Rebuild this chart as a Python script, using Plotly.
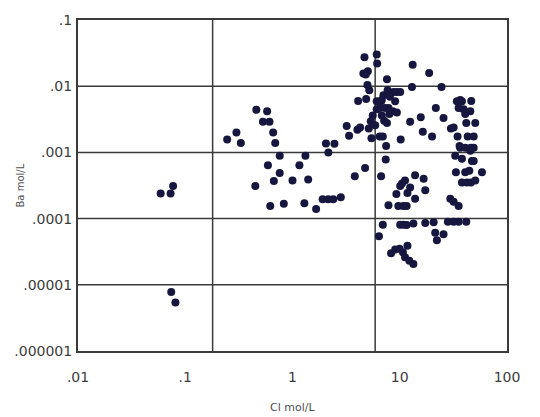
import plotly.graph_objects as go

# Cl (mol/L) and Ba (mol/L) values
cl = [0.059, 0.073, 0.077, 0.074, 0.081,
      0.246, 0.30, 0.33, 0.46, 0.58, 0.53, 0.61, 0.66, 0.69, 0.76, 0.59, 0.76, 0.67, 0.45,
      0.62, 0.83, 1.0, 1.16, 1.32, 1.40, 1.29, 1.66, 1.91, 2.15, 2.40, 2.82, 2.05, 2.16, 2.46,
      3.2, 3.37, 3.81, 4.03, 4.27, 4.75, 4.09, 4.86, 4.69, 4.82, 5.04, 4.58, 5.0, 5.2, 5.14,
      5.45, 5.6, 5.37, 6.1, 6.15, 6.1, 6.1, 5.9, 6.5, 6.7, 6.8, 7.05, 7.6, 7.7, 8.1, 8.75,
      9.06, 9.4, 10.1, 6.8, 7.15, 7.6, 8.0, 8.6, 9.4, 6.56, 7.85, 7.3, 6.95, 7.46, 7.4, 6.7,
      10.2, 12.5, 13.0, 13.2, 15.7, 16.4, 18.8, 20.0, 21.7, 24.5, 25.6, 30.0,
      6.95, 6.4, 7.85, 9.3, 10.1, 10.5, 11.2, 11.8, 12.5, 13.9, 13.9, 16.7, 17.3, 9.7, 10.8,
      11.6, 10.1, 10.8, 11.6, 13.4, 8.3, 9.06, 9.95, 10.7, 11.8, 11.2, 12.3, 13.4, 17.3, 20.7,
      21.4, 22.2, 25.6, 28.1, 31.8, 35.4, 41.7, 29.6, 31.8, 35.4,
      34.1, 36.6, 38.0, 35.4, 39.4, 45.5, 46.4, 34.6, 36.1, 31.8, 40.8, 41.7, 43.0, 48.9, 50.6,
      36.6, 40.8, 46.1, 48.9, 38.0, 45.5, 47.1, 33.4, 40.8, 44.5, 48.9, 58.4, 38.0, 42.3, 46.1,
      50.6, 32.9]

ba = [2.4e-4, 2.4e-4, 3.1e-4, 7.8e-6, 5.4e-6,
      1.56e-3, 2.0e-3, 1.39e-3, 4.4e-3, 4.2e-3, 2.9e-3, 2.9e-3, 2.0e-3, 1.39e-3, 8.9e-4, 6.4e-4,
      4.9e-4, 3.7e-4, 3.1e-4,
      1.55e-4, 1.67e-4, 3.75e-4, 6.4e-4, 8.9e-4, 3.9e-4, 1.7e-4, 1.4e-4, 1.96e-4, 1.96e-4,
      1.96e-4, 2.1e-4, 1.36e-3, 1.0e-3, 1.35e-3,
      2.5e-3, 1.78e-3, 4.35e-4, 2.2e-3, 2.37e-3, 5.8e-4, 6.0e-3, 6.4e-3, 0.0274, 0.015, 0.0168,
      0.0155, 0.0104, 8.65e-3, 2.3e-3, 1.64e-3, 3.6e-3, 2.96e-3, 0.030, 0.022, 5.9e-3, 4.5e-3,
      2.56e-3, 1.74e-3, 5.9e-3, 6.2e-3, 7.3e-3, 0.0127, 8.65e-3, 6.9e-3, 8.2e-3, 5.9e-3, 8.2e-3,
      8.2e-3, 3.6e-3, 3.0e-3, 2.77e-3, 3.8e-3, 4.2e-3, 4.0e-3, 4.7e-3, 4.7e-3, 4.7e-3, 1.74e-3,
      1.25e-3, 7.8e-4, 4.35e-4,
      1.56e-3, 2.9e-3, 9.7e-3, 0.021, 3.4e-3, 2.05e-3, 0.0158, 1.74e-3, 4.7e-3, 9.7e-3, 3.3e-3,
      2.3e-3,
      8.1e-5, 5.4e-5, 1.59e-4, 2.36e-4, 3.1e-4, 3.4e-4, 3.75e-4, 2.44e-4, 2.94e-4, 4.5e-4,
      1.99e-4, 4.0e-4, 2.67e-4, 1.55e-4, 1.55e-4, 1.55e-4, 8.1e-5, 8.1e-5, 8.0e-5, 8.4e-5,
      3.0e-5, 3.4e-5, 3.5e-5, 3.1e-5, 3.9e-5, 2.6e-5, 2.3e-5, 2.06e-5, 8.6e-5, 8.8e-5, 6.1e-5,
      4.7e-5, 5.8e-5, 9.0e-5, 9.0e-5, 9.0e-5, 9.0e-5, 1.99e-4, 1.8e-4, 1.55e-4,
      5.9e-3, 6.2e-3, 5.9e-3, 4.7e-3, 4.5e-3, 4.2e-3, 6.0e-3, 1.74e-3, 1.25e-3, 2.37e-3, 3.8e-3,
      2.77e-3, 1.74e-3, 1.74e-3, 2.77e-3, 1.18e-3, 1.18e-3, 1.18e-3, 1.18e-3, 8.0e-4, 1.06e-3,
      7.4e-4, 5.0e-4, 5.0e-4, 5.3e-4, 7.4e-4, 5.0e-4, 3.5e-4, 3.5e-4, 3.5e-4, 3.75e-4, 8.9e-4]

x_tickvals = [0.01, 0.1, 1, 10, 100]
x_ticktext = [".01", ".1", "1", "10", "100"]
y_tickvals = [0.1, 0.01, 0.001, 0.0001, 0.00001, 0.000001]
y_ticktext = [".1", ".01", ".001", ".0001", ".00001", ".000001"]
cl_ref_lines = [0.18, 5.9]          # vertical reference lines (Cl mol/L)
ba_grid = [0.01, 0.001, 0.0001, 0.00001]

fig = go.Figure()
fig.add_trace(go.Scatter(
    x=cl, y=ba, mode="markers",
    marker=dict(size=8, color="#16163e"),
    showlegend=False, hoverinfo="skip"))

line_col = "#3a3a3a"
for xv in cl_ref_lines:
    fig.add_shape(type="line", xref="x", yref="paper", x0=xv, x1=xv, y0=0, y1=1,
                  line=dict(color=line_col, width=1.5), layer="below")
for yv in ba_grid:
    fig.add_shape(type="line", xref="paper", yref="y", x0=0, x1=1, y0=yv, y1=yv,
                  line=dict(color=line_col, width=1.5), layer="below")

fam = "DejaVu Sans, Liberation Sans, sans-serif"
fig.add_annotation(text="Cl mol/L", xref="paper", yref="paper", x=0.5, y=0,
                   yshift=-56, showarrow=False, xanchor="center", yanchor="middle",
                   font=dict(family=fam, size=11, color="#505050"))
fig.add_annotation(text="Ba mol/L", xref="paper", yref="paper", x=0, y=0.5,
                   xshift=-58, showarrow=False, textangle=-90, xanchor="center",
                   yanchor="middle", font=dict(family=fam, size=10, color="#505050"))

fig.update_layout(
    width=540, height=417,
    margin=dict(l=78, r=33, t=14, b=66),
    paper_bgcolor="white", plot_bgcolor="white",
    font=dict(family=fam, size=14, color="#3c3c3c"),
    xaxis=dict(type="log", range=[-2, 2], tickvals=x_tickvals, ticktext=x_ticktext,
               showgrid=False, zeroline=False, showline=True, mirror=True,
               linecolor=line_col, linewidth=2, ticks="", ticklabelstandoff=12),
    yaxis=dict(type="log", range=[-6, -1], tickvals=y_tickvals, ticktext=y_ticktext,
               showgrid=False, zeroline=False, showline=True, mirror=True,
               linecolor=line_col, linewidth=2, ticks="", ticklabelstandoff=1),
)

fig.write_html("out.html")
